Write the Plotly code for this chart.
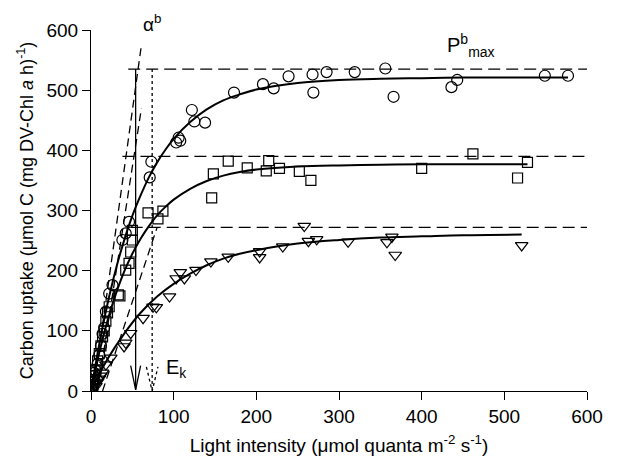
import plotly.graph_objects as go

# ---------------- data ----------------
circ_x = [1, 2, 3, 4, 5, 8, 10, 12, 14, 16, 18, 22, 26, 38, 42, 46, 71, 73, 103, 106, 108, 122, 125, 138,
          173, 208, 221, 239, 268, 269, 285, 319, 356, 366, 436, 443, 549, 577]
circ_y = [5, 15, 25, 30, 35, 45, 60, 75, 95, 105, 132, 162, 176, 251, 262, 281, 355, 381, 413, 421, 416, 467, 448, 446,
          496, 510, 503, 523, 526, 496, 530, 530, 536, 489, 505, 517, 524, 524]

sq_x = [1, 2, 3, 4, 6, 8, 10, 12, 14, 16, 18, 20, 22, 33, 35, 42, 46, 48, 50, 50, 69, 81, 87,
        146, 148, 166, 189, 212, 215, 228, 252, 266, 400, 462, 516, 528]
sq_y = [3, 10, 18, 25, 35, 50, 62, 75, 90, 100, 116, 130, 140, 160, 158, 201, 212, 231, 251, 267, 296, 286, 299,
        321, 361, 382, 371, 366, 383, 370, 365, 350, 370, 394, 354, 380]

tri_x = [2, 4, 6, 8, 10, 12, 14, 18, 24, 40, 42, 48, 63, 75, 79, 95, 103, 108, 113, 127, 145, 166,
         204, 204, 232, 258, 263, 273, 311, 358, 364, 368, 521]
tri_y = [5, 12, 8, 15, 20, 25, 30, 44, 55, 74, 80, 96, 121, 140, 139, 157, 187, 197, 187, 201, 215, 223,
         232, 222, 240, 274, 249, 252, 248, 247, 256, 226, 242]

# fitted curves, values
fit_c_x = [0, 10, 20, 30, 40, 50, 60, 70, 80, 90, 100, 120, 140, 160, 180, 200, 250, 300, 350, 400, 450, 500, 577]
fit_c_y = [0, 78, 145, 202, 250, 291, 325, 355, 380, 401, 419, 447, 468, 483, 493, 501, 512, 517, 519, 520, 521, 521, 521]
fit_s_x = [0, 10, 20, 30, 40, 50, 60, 70, 80, 90, 100, 120, 140, 160, 180, 200, 250, 300, 350, 400, 450, 528]
fit_s_y = [0, 64, 117, 161, 198, 228, 253, 274, 292, 306, 318, 336, 349, 358, 364, 368, 373, 375, 376, 377, 377, 377]
fit_t_x = [0, 20, 40, 60, 80, 100, 120, 140, 160, 180, 200, 250, 300, 350, 400, 450, 521]
fit_t_y = [0, 53, 95, 130, 157, 178, 195, 209, 220, 228, 234, 245, 251, 255, 257, 259, 260]

pmax = [535, 390, 272]           # dashed P^b_max levels
pmax_start = [45, 38, 48]        # where each dashed level begins
pmax_end = 600
alpha_lines = [([3, 61], [0, 575]), ([8, 61], [0, 470]), ([14, 80], [0, 272])]
ek_solid = 54
ek_dotted = 74

x_ticks = [0, 100, 200, 300, 400, 500, 600]
y_ticks = [0, 100, 200, 300, 400, 500, 600]

FONT = "Liberation Sans, Arial, sans-serif"

fig = go.Figure()

# alpha lines
for xs, ys in alpha_lines:
    fig.add_trace(go.Scatter(x=xs, y=ys, mode="lines", line=dict(color="black", width=1.3, dash="8px,5px"),
                             showlegend=False, hoverinfo="skip"))
# pmax dashed lines
for lvl, st in zip(pmax, pmax_start):
    fig.add_trace(go.Scatter(x=[st, pmax_end], y=[lvl, lvl], mode="lines",
                             line=dict(color="black", width=1.3, dash="12px,6px"),
                             showlegend=False, hoverinfo="skip"))

# Ek verticals
fig.add_trace(go.Scatter(x=[ek_solid, ek_solid], y=[pmax[0], 2], mode="lines",
                         line=dict(color="black", width=1.3), showlegend=False, hoverinfo="skip"))
fig.add_trace(go.Scatter(x=[ek_solid - 6, ek_solid, ek_solid + 6], y=[42, 2, 42], mode="lines",
                         line=dict(color="black", width=1.3), showlegend=False, hoverinfo="skip"))
fig.add_trace(go.Scatter(x=[ek_dotted, ek_dotted], y=[pmax[0], 0], mode="lines",
                         line=dict(color="black", width=1.3, dash="dot"), showlegend=False, hoverinfo="skip"))
fig.add_trace(go.Scatter(x=[ek_dotted - 7, ek_dotted, ek_dotted + 7], y=[40, 0, 40], mode="lines",
                         line=dict(color="black", width=1.3, dash="dot"), showlegend=False, hoverinfo="skip"))

# fitted curves
for fx, fy in [(fit_c_x, fit_c_y), (fit_s_x, fit_s_y), (fit_t_x, fit_t_y)]:
    fig.add_trace(go.Scatter(x=fx, y=fy, mode="lines", line=dict(color="black", width=2, shape="spline"),
                             showlegend=False, hoverinfo="skip"))

# data markers
mk = dict(color="rgba(0,0,0,0)", line=dict(color="black", width=1.2))
fig.add_trace(go.Scatter(x=circ_x, y=circ_y, mode="markers", showlegend=False,
                         marker=dict(symbol="circle", size=11, **mk)))
fig.add_trace(go.Scatter(x=sq_x, y=sq_y, mode="markers", showlegend=False,
                         marker=dict(symbol="square", size=10, **mk)))
fig.add_trace(go.Scatter(x=tri_x, y=tri_y, mode="markers", showlegend=False,
                         marker=dict(symbol="triangle-down", size=11, **mk)))

fig.add_annotation(x=60, y=588, yanchor="bottom", xanchor="left", showarrow=False,
                   text="α<sup>b</sup>", font=dict(family=FONT, size=19, color="black"))
fig.add_annotation(x=428, y=575, yanchor="middle", xanchor="left", showarrow=False,
                   text="P<sup>b</sup><sub>max</sub>", font=dict(family=FONT, size=20, color="black"))
fig.add_annotation(x=88, y=37, yanchor="middle", xanchor="left", showarrow=False,
                   text="E<sub>k</sub>", font=dict(family=FONT, size=20, color="black"))

axis_common = dict(showline=True, linecolor="black", linewidth=1.2, ticks="outside", ticklen=8,
                   tickcolor="black", showgrid=False, zeroline=False,
                   tickfont=dict(family=FONT, size=19, color="black"))
fig.update_xaxes(range=[0, 600], tickvals=x_ticks, ticktext=[str(v) for v in x_ticks],
                 title=dict(text="Light intensity (μmol quanta m<sup>-2</sup> s<sup>-1</sup>)",
                            font=dict(family=FONT, size=19, color="black"), standoff=12),
                 **axis_common)
fig.update_yaxes(range=[0, 600], tickvals=y_ticks, ticktext=[str(v) for v in y_ticks],
                 title=dict(text="Carbon uptake (μmol C (mg DV-Chl <i>a</i> h)<sup>-1</sup>)",
                            font=dict(family=FONT, size=18, color="black"), standoff=8),
                 **axis_common)
fig.update_layout(width=628, height=461, plot_bgcolor="white", paper_bgcolor="white",
                  margin=dict(l=83, r=49, t=20, b=78))
fig.write_html("out.html")
